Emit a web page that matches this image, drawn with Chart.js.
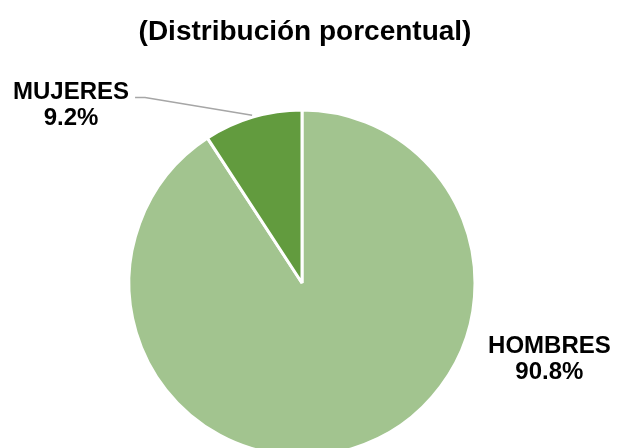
<!DOCTYPE html>
<html lang="es">
<head>
<meta charset="utf-8">
<title>Distribución porcentual</title>
<script src="https://cdn.jsdelivr.net/npm/chart.js@4"></script>
<style>
  html, body { margin: 0; padding: 0; width: 617px; height: 448px; overflow: hidden; background: #ffffff; }
  #wrap { position: absolute; left: 0; top: 0; width: 617px; height: 480px; }
</style>
</head>
<body>
<div id="wrap"><canvas id="chart" width="617" height="480"></canvas></div>
<script>
// Distribución porcentual por sexo
const TITLE = '(Distribución porcentual)';
const categories = ['HOMBRES', 'MUJERES'];
const values = [90.8, 9.2];
const valueLabels = ['90.8%', '9.2%'];
const sliceColors = ['#A2C48F', '#629B3E'];

const FONT = "'Liberation Sans', Arial, Helvetica, sans-serif";

// Title, category labels and the leader line for the small slice
const annotate = {
  id: 'annotate',
  afterDatasetsDraw(chart, args, opts) {
    const ctx = chart.ctx;
    const meta = chart.getDatasetMeta(0);
    const arc0 = meta.data[0];
    const cx = arc0.x, cy = arc0.y, r = arc0.outerRadius;

    ctx.save();
    ctx.fillStyle = '#000000';
    ctx.textAlign = 'center';
    ctx.textBaseline = 'alphabetic';

    // chart title
    ctx.font = `bold ${opts.titleSize}px ${FONT}`;
    ctx.fillText(TITLE, cx + opts.titleDx, opts.titleBaseline);

    // labels
    ctx.font = `bold ${opts.labelSize}px ${FONT}`;
    meta.data.forEach((arc, i) => {
      const pos = opts.positions[i];
      const lx = cx + pos.dx * r;
      const ly = cy + pos.dy * r;
      ctx.fillStyle = '#000000';
      ctx.fillText(categories[i], lx, ly);
      ctx.fillText(valueLabels[i], lx, ly + opts.lineGap);

      if (pos.leader) {
        const w = ctx.measureText(categories[i]).width;
        const sx = lx + w / 2 + 6;
        const sy = ly - 1;
        const mid = (arc.startAngle + arc.endAngle) / 2;
        const ex = cx + Math.cos(mid) * (r + 2);
        const ey = cy + Math.sin(mid) * (r + 2);
        ctx.strokeStyle = '#A6A6A6';
        ctx.lineWidth = 1.5;
        ctx.beginPath();
        ctx.moveTo(sx, sy);
        ctx.lineTo(sx + 10, sy);
        ctx.lineTo(ex, ey);
        ctx.stroke();
      }
    });
    ctx.restore();
  }
};

new Chart(document.getElementById('chart'), {
  type: 'pie',
  data: {
    labels: categories,
    datasets: [{
      data: values,
      backgroundColor: sliceColors,
      borderColor: '#ffffff',
      borderWidth: 3,
      hoverOffset: 0
    }]
  },
  options: {
    responsive: false,
    animation: false,
    devicePixelRatio: 1,
    layout: { padding: { left: 127.5, right: 140.5, top: 108.5, bottom: 22.5 } },
    plugins: {
      legend: { display: false },
      title: { display: false },
      tooltip: { enabled: false },
      annotate: {
        titleSize: 28,
        titleDx: 3,
        titleBaseline: 40,
        labelSize: 24,
        lineGap: 26,
        positions: [
          { dx: 1.43, dy: 0.405, leader: false },
          { dx: -1.335, dy: -1.066, leader: true }
        ]
      }
    }
  },
  plugins: [annotate]
});
</script>
</body>
</html>
